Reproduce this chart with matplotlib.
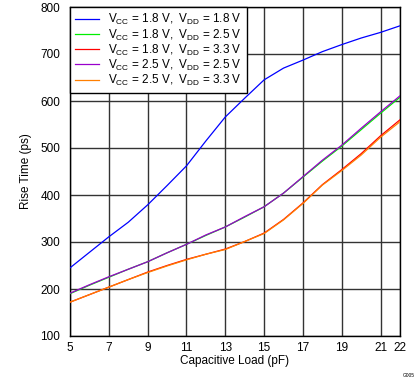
import matplotlib
matplotlib.use('Agg')
import matplotlib.pyplot as plt

# fonts
plt.rcParams['font.family'] = ['Liberation Sans', 'DejaVu Sans']
plt.rcParams['mathtext.default'] = 'regular'
plt.rcParams['font.size'] = 8.5

# data (capacitive load in pF, rise time in ps)
load_pf = [5, 6, 7, 8, 9, 10, 11, 12, 13, 14, 15, 16, 17, 18, 19, 20, 21, 22]
rise_18_18 = [245, 278, 311, 342, 379, 420, 462, 515, 566, 606, 645, 670, 687, 705, 720, 734, 746, 760]
rise_18_25 = [190, 208, 225, 242, 258, 277, 295, 314, 332, 353, 375, 404, 438, 472, 504, 539, 574, 608]
rise_18_33 = [172, 188, 204, 220, 236, 250, 263, 274, 285, 301, 319, 348, 383, 422, 454, 488, 526, 560]
rise_25_25 = [191, 209, 226, 242, 258, 277, 295, 315, 332, 354, 375, 404, 439, 474, 506, 542, 577, 611]
rise_25_33 = [172, 188, 204, 220, 235, 249, 262, 274, 284, 301, 318, 347, 382, 421, 452, 485, 523, 556]

labels = [r'V$_{CC}$ = 1.8 V,  V$_{DD}$ = 1.8 V',
          r'V$_{CC}$ = 1.8 V,  V$_{DD}$ = 2.5 V',
          r'V$_{CC}$ = 1.8 V,  V$_{DD}$ = 3.3 V',
          r'V$_{CC}$ = 2.5 V,  V$_{DD}$ = 2.5 V',
          r'V$_{CC}$ = 2.5 V,  V$_{DD}$ = 3.3 V']
colors = ['#0000ff', '#00ee00', '#ff0000', '#9900cc', '#ff7f00']
series = [rise_18_18, rise_18_25, rise_18_33, rise_25_25, rise_25_33]

x_ticks = [5, 7, 9, 11, 13, 15, 17, 19, 21, 22]
y_ticks = [100, 200, 300, 400, 500, 600, 700, 800]

fig = plt.figure(figsize=(4.19, 3.82), dpi=100)
ax = fig.add_axes([70 / 419, 1 - 336 / 382, 330 / 419, 329 / 382])

for ys, c, lab in zip(series, colors, labels):
  ax.plot(load_pf, ys, color=c, lw=0.9, label=lab, zorder=3)

ax.set_xlim(5, 22)
ax.set_ylim(100, 800)
ax.set_xticks(x_ticks)
ax.set_yticks(y_ticks)
ax.tick_params(axis='x', length=0, pad=4)
ax.tick_params(axis='y', length=0, pad=7)
ax.grid(True, color='#333333', lw=1.0)
for s in ax.spines.values():
  s.set_color('black')
  s.set_linewidth(1.0)

ax.set_xlabel('Capacitive Load (pF)', labelpad=1)
ax.set_ylabel('Rise Time (ps)', labelpad=6)

leg = ax.legend(loc='upper left', borderaxespad=0, fancybox=False, framealpha=1,
                edgecolor='black', handlelength=2.0, handletextpad=0.75,
                labelspacing=0.0, borderpad=0.45, fontsize=8.5)
leg.get_frame().set_linewidth(1.0)
leg.set_zorder(5)

fig.text(0.99, 0.01, 'G005', fontsize=3.5, ha='right', va='bottom')

fig.savefig('out.png', dpi=100)
